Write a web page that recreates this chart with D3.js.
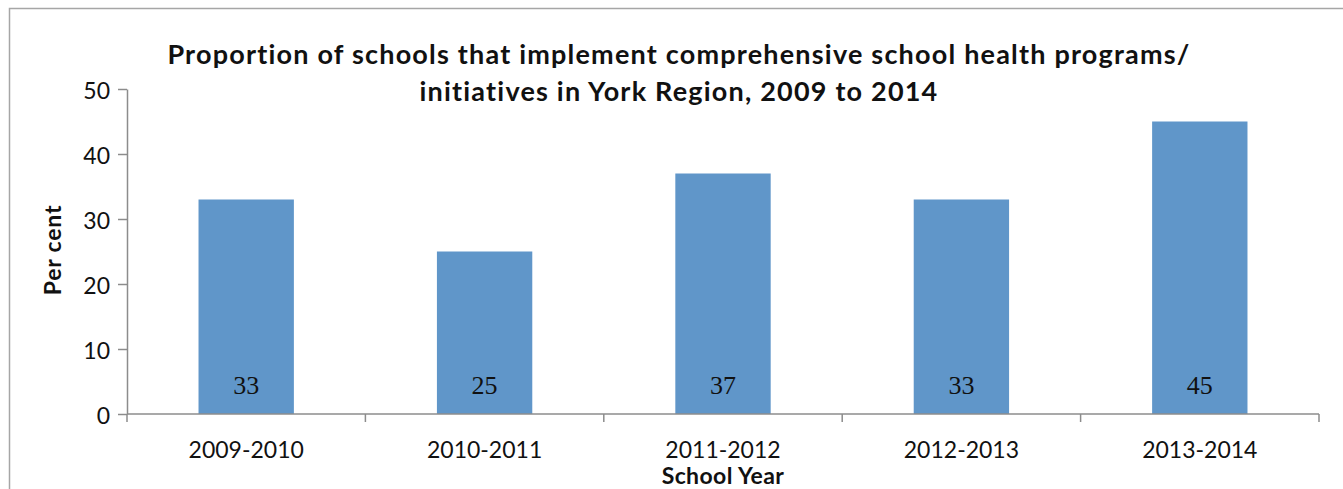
<!DOCTYPE html>
<html>
<head>
<meta charset="utf-8">
<script src="https://cdn.jsdelivr.net/npm/d3@7"></script>
<style>
  html, body { margin: 0; padding: 0; background: #fff; }
  svg { display: block; }
</style>
</head>
<body>
<svg id="chart" width="1343" height="489"></svg>
<script>
// School years on the x axis
const schoolYears = ["2009-2010", "2010-2011", "2011-2012", "2012-2013", "2013-2014"];
// Per cent of schools implementing comprehensive school health programs
const percentValues = [33, 25, 37, 33, 45];
// Y axis ticks
const yTicks = [0, 10, 20, 30, 40, 50];

const titleLines = [
  "Proportion of schools that implement comprehensive school health programs/",
  "initiatives in York Region, 2009 to 2014"
];

const W = 1343, H = 489;
const svg = d3.select("#chart");

// chart frame
svg.append("rect")
  .attr("x", 9.5).attr("y", 8.5)
  .attr("width", W + 20).attr("height", H + 20)
  .attr("fill", "none").attr("stroke", "#a6a6a6").attr("stroke-width", 1.5);

const x = d3.scaleBand()
  .domain(schoolYears)
  .range([127, 1319])
  .paddingInner(0.6).paddingOuter(0.3);

const y = d3.scaleLinear()
  .domain([0, 50])
  .range([414, 89]);

const axisColor = "#8c8c8c";
const sans = "Lato, 'Open Sans', sans-serif";

// bars
svg.append("g").selectAll("rect")
  .data(percentValues)
  .join("rect")
  .attr("x", (d, i) => x(schoolYears[i]))
  .attr("y", d => y(d))
  .attr("width", x.bandwidth())
  .attr("height", d => y(0) - y(d))
  .attr("fill", "#6096c9");

// value labels inside bars
svg.append("g").selectAll("text")
  .data(percentValues)
  .join("text")
  .attr("x", (d, i) => x(schoolYears[i]) + x.bandwidth() / 2)
  .attr("y", 394)
  .attr("text-anchor", "middle")
  .attr("font-family", "'Liberation Serif', 'DejaVu Serif', serif")
  .attr("font-size", 26)
  .attr("fill", "#111")
  .text(d => d);

// y axis
const yAxis = svg.append("g")
  .attr("transform", "translate(127,0)")
  .call(d3.axisLeft(y).tickValues(yTicks).tickSize(9).tickPadding(8).tickSizeOuter(0));
yAxis.select(".domain").attr("stroke", axisColor).attr("stroke-width", 1.5);
yAxis.selectAll(".tick line").attr("stroke", axisColor).attr("stroke-width", 1.5);
yAxis.selectAll(".tick text")
  .attr("font-family", sans).attr("font-size", 23).attr("fill", "#111")
  .attr("dy", "0.4em");

// x axis with ticks on category boundaries
const xAxis = svg.append("g")
  .attr("transform", "translate(0,414)");
xAxis.append("line")
  .attr("x1", 127).attr("x2", 1319)
  .attr("stroke", axisColor).attr("stroke-width", 1.5);
const step = x.step();
const boundaries = schoolYears.map((d, i) => x(d) - x.paddingInner() * step / 2).concat([1319]);
xAxis.selectAll("line.b")
  .data(boundaries)
  .join("line")
  .attr("class", "b")
  .attr("x1", d => d).attr("x2", d => d)
  .attr("y1", 0).attr("y2", 8)
  .attr("stroke", axisColor).attr("stroke-width", 1.5);
xAxis.selectAll("text")
  .data(schoolYears)
  .join("text")
  .attr("x", d => x(d) + x.bandwidth() / 2)
  .attr("y", 44)
  .attr("text-anchor", "middle")
  .attr("font-family", sans).attr("font-size", 23).attr("fill", "#111")
  .text(d => d);

// axis titles
svg.append("text")
  .attr("x", 723).attr("y", 484)
  .attr("text-anchor", "middle")
  .attr("font-family", sans).attr("font-weight", "bold").attr("font-size", 23)
  .attr("letter-spacing", 0.4)
  .attr("fill", "#111")
  .text("School Year");

svg.append("text")
  .attr("transform", "translate(61,250) rotate(-90)")
  .attr("text-anchor", "middle")
  .attr("font-family", sans).attr("font-weight", "bold").attr("font-size", 23)
  .attr("letter-spacing", 0.8)
  .attr("fill", "#111")
  .text("Per cent");

// title
svg.append("g").selectAll("text")
  .data(titleLines)
  .join("text")
  .attr("x", 679)
  .attr("y", (d, i) => 64 + i * 37)
  .attr("text-anchor", "middle")
  .attr("font-family", sans).attr("font-weight", "bold").attr("font-size", 27)
  .attr("letter-spacing", 1.2)
  .attr("fill", "#111")
  .text(d => d);
</script>
</body>
</html>
